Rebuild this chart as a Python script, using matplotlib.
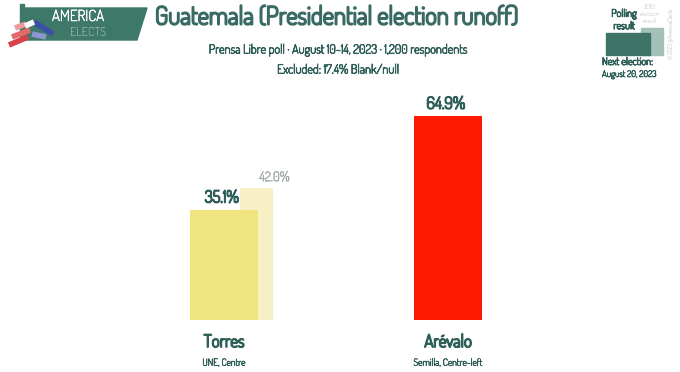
import matplotlib
matplotlib.use('Agg')
import matplotlib.pyplot as plt
import matplotlib.patheffects as pe
from matplotlib.patches import Polygon, Rectangle

plt.rcParams['font.family'] = ['Dosis', 'DejaVu Sans']

# 数据
candidates = ['Torres', 'Arévalo']
parties = ['UNE, Centre', 'Semilla, Centre-left']
poll = [35.1, 64.9]
prev_result = [42.0, None]  # 2019 runoff result
bar_colors = ['#efe47e', '#fe1a00']
prev_color = '#f7f0c4'

teal = '#2f5f59'
title_teal = '#3a6a64'

W, H = 680, 372


def fx(x):
    return x / W


def fy(y):
    return 1 - y / H


def bold(lw, c=teal):
    # Dosis 只有细体，用描边加粗
    return [pe.withStroke(linewidth=lw, foreground=c)]


fig = plt.figure(figsize=(W / 100, H / 100), dpi=100)
fig.patch.set_facecolor('white')

# 主图
ax = fig.add_axes([fx(112), fy(320), 448 / W, 240 / H])
xs = [0, 1]
bw = 0.30
for i, v in enumerate(prev_result):
    if v is not None:
        ax.bar(xs[i] + 0.147, v, width=0.147, color=prev_color, zorder=1)
        ax.text(xs[i] + 0.225, v + 1.2, f'{v:.1f}%', ha='center', va='bottom',
                fontsize=9.5, color='#9fa9a7', zorder=3, path_effects=bold(0.4, '#9fa9a7'))
ax.bar(xs, poll, width=bw, color=bar_colors, zorder=2)
for i, v in enumerate(poll):
    ax.text(xs[i] - 0.01, v + 1.0, f'{v:.1f}%', ha='center', va='bottom',
            fontsize=12, color=teal, zorder=3, path_effects=bold(1.1))
    ax.text(xs[i], -4.5, candidates[i], ha='center', va='top',
            fontsize=12.5, color=teal, path_effects=bold(1.2))
    ax.text(xs[i], -12.0, parties[i], ha='center', va='top',
            fontsize=7, color=teal, path_effects=bold(0.45))
ax.set_xlim(-0.5, 1.5)
ax.set_ylim(0, 64.9 * 240 / 204)
ax.axis('off')

# 标题
fig.text(fx(337), fy(18), 'Guatemala (Presidential election runoff)', ha='center', va='center',
         fontsize=18, color=title_teal, path_effects=bold(1.5, title_teal))
fig.text(fx(338), fy(50), 'Prensa Libre poll · August 10-14, 2023 · 1,200 respondents',
         ha='center', va='center', fontsize=9, color=teal, path_effects=bold(0.6))
fig.text(fx(338), fy(70), 'Excluded: 17.4% Blank/null',
         ha='center', va='center', fontsize=9, color=teal, path_effects=bold(0.6))

# logo
fig.add_artist(Polygon([(fx(22), fy(8)), (fx(147), fy(8)), (fx(137), fy(40)), (fx(22), fy(40))],
                       closed=True, transform=fig.transFigure, color='#3e7868'))
fig.add_artist(Rectangle((fx(20), fy(40)), fx(4), 36 / H, transform=fig.transFigure,
                         color='#3e7868'))
fig.text(fx(78), fy(17), 'AMERICA', ha='center', va='center', fontsize=11, color='white',
         path_effects=bold(0.4, 'white'))
fig.text(fx(88), fy(32), 'ELECTS', ha='center', va='center', fontsize=9, color='#c9dccf')
stripes = [((9, 45), (28, 37), '#d9404a'), ((12, 37), (30, 30), '#e36a6a'),
           ((15, 28), (26, 24), '#ef9a9a'), ((34, 22), (53, 34), '#3a4fa8'),
           ((32, 34), (46, 37), '#8a98cf'), ((25, 26), (34, 22), '#ffffff')]
for (x0, y0), (x1, y1), c in stripes:
    fig.add_artist(plt.Line2D([fx(x0), fx(x1)], [fy(y0), fy(y1)], transform=fig.transFigure,
                              color=c, linewidth=4, solid_capstyle='butt'))

# 图例
fig.add_artist(Rectangle((fx(641), fy(55)), 22 / W, 27 / H, transform=fig.transFigure,
                         color='#a3c1b8'))
fig.add_artist(Rectangle((fx(606), fy(55)), 44 / W, 22 / H, transform=fig.transFigure,
                         color='#3e7468'))
fig.text(fx(624), fy(20), 'Polling\nresult', ha='center', va='center', fontsize=7.5,
         color=teal, linespacing=1.3, path_effects=bold(0.7))
fig.text(fx(650), fy(14), '2019\nelection\nresult', ha='center', va='center', fontsize=5,
         color='#a0aaa8', linespacing=1.2)
fig.text(fx(602), fy(62), 'Next election:', ha='left', va='center', fontsize=7.5,
         color=teal, path_effects=bold(0.7))
fig.text(fx(602), fy(75), 'August 20, 2023', ha='left', va='center', fontsize=6.5,
         color=teal, path_effects=bold(0.45))
fig.text(fx(670), fy(34), '© 2023 @AmericaElects', ha='center', va='center', fontsize=4,
         rotation=90, color='#8a9a98')

plt.savefig('out.png', dpi=100)
